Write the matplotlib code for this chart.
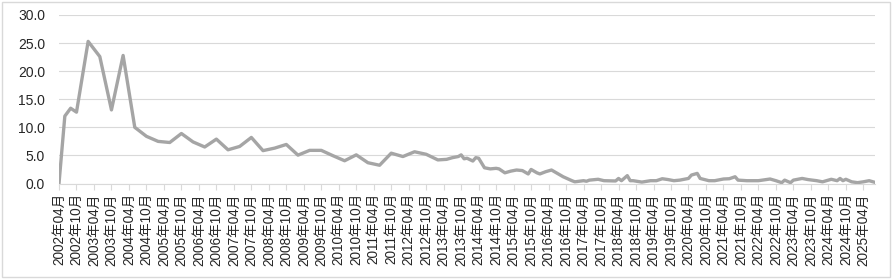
import matplotlib
matplotlib.use("Agg")
import matplotlib.pyplot as plt
from matplotlib.patches import Rectangle

plt.rcParams['font.family'] = ['Liberation Sans', 'Noto Sans CJK JP', 'DejaVu Sans']

# month index counted from 2002-04
months = [0, 2, 4, 6, 10, 14, 18, 22, 26, 30, 34, 38, 42, 46, 50, 54, 58, 62, 66, 70,
          74, 78, 82, 86, 90, 94, 98, 102, 106, 110, 114, 118, 122, 126, 130,
          133, 135, 137, 138, 139, 140, 142, 143, 144, 146, 148, 150, 151, 153, 155,
          157, 159, 161, 162, 164, 165, 167, 169, 171, 172, 173, 176, 177, 180, 181,
          182, 185, 187, 191, 192, 193, 195, 196, 197, 200, 203, 205, 207, 209, 211,
          213, 216, 217, 219, 220, 223, 225, 228, 230, 232, 233, 236, 240, 244, 246,
          248, 249, 251, 252, 255, 257, 260, 262, 265, 267, 268, 269, 270, 272, 274,
          276, 278, 280]
values = [0.0, 12.0, 13.4, 12.7, 25.3, 22.6, 13.1, 22.8, 10.0, 8.4, 7.5, 7.3, 8.9, 7.4,
          6.5, 7.9, 6.0, 6.6, 8.2, 5.85, 6.3, 6.95, 5.05, 5.9, 5.9, 4.95, 4.05, 5.1,
          3.7, 3.25, 5.4, 4.8, 5.65, 5.2, 4.2,
          4.3, 4.6, 4.8, 5.1, 4.4, 4.5, 4.0, 4.6, 4.5, 2.8, 2.6, 2.7, 2.6, 1.9, 2.2,
          2.4, 2.3, 1.7, 2.5, 1.9, 1.7, 2.1, 2.4, 1.8, 1.5, 1.2, 0.5, 0.3, 0.5, 0.4,
          0.6, 0.75, 0.5, 0.45, 0.9, 0.5, 1.4, 0.5, 0.5, 0.25, 0.5, 0.5, 0.85, 0.7, 0.5,
          0.6, 0.9, 1.5, 1.8, 0.9, 0.5, 0.5, 0.8, 0.85, 1.2, 0.6, 0.5, 0.5, 0.8, 0.5,
          0.15, 0.6, 0.15, 0.6, 0.9, 0.7, 0.5, 0.3, 0.75, 0.5, 0.9, 0.5, 0.75, 0.3, 0.15,
          0.3, 0.5, 0.2]

tick_months = list(range(0, 277, 6))
tick_labels = ["%d年%02d月" % (2002 + (m + 3) // 12, (m + 3) % 12 + 1) for m in tick_months]
y_ticks = [0, 5, 10, 15, 20, 25, 30]

fig = plt.figure(figsize=(8.92, 2.79), dpi=100)
ax = fig.add_axes([59 / 892, 1 - 183.5 / 279, (875 - 59) / 892, (183.5 - 15) / 279])

ax.plot(months, values, color='#a5a5a5', lw=2.4, solid_joinstyle='round')

ax.set_xlim(0, 280)
ax.set_ylim(0, 30)
ax.set_yticks(y_ticks)
ax.set_yticklabels(["%.1f" % v for v in y_ticks])
ax.set_xticks(tick_months)
ax.set_xticklabels(tick_labels, rotation=90, ha='center', va='top')

ax.grid(axis='y', color='#d9d9d9', lw=0.8)
ax.set_axisbelow(True)
for s in ['left', 'right', 'top']:
    ax.spines[s].set_visible(False)
ax.spines['bottom'].set_color('#d9d9d9')
ax.spines['bottom'].set_linewidth(0.8)
ax.tick_params(axis='y', length=0, pad=10, labelsize=10, labelcolor='#262626')
ax.tick_params(axis='x', direction='out', length=4, color='#d9d9d9', width=0.8,
               pad=3, labelsize=9.8, labelcolor='#262626')

fig.patches.append(Rectangle((1.5 / 892, 2 / 279), 888 / 892, 275 / 279, transform=fig.transFigure,
                             fill=False, ec='#d9d9d9', lw=1))

fig.savefig('out.png', dpi=100)
